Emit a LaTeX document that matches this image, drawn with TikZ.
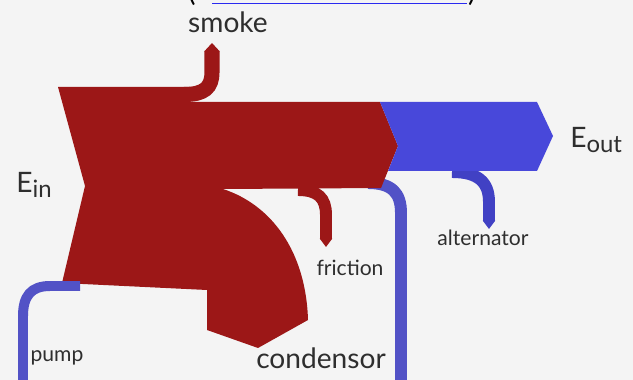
\documentclass[tikz,border=0pt]{standalone}
\usepackage{fontspec}
\setmainfont{Lato}
\usetikzlibrary{arrows.meta}
\definecolor{heat}{HTML}{9C1717}
\definecolor{work}{HTML}{4848DA}
\definecolor{pumpblue}{HTML}{5252C6}
\definecolor{ink}{HTML}{2E2E2E}
\definecolor{paper}{HTML}{F4F4F4}
\definecolor{link}{HTML}{2A2AF0}

\begin{document}
\begin{tikzpicture}[x=0.025cm, y=-0.025cm,
      lbl/.style={text=ink, inner sep=0pt, font=\fontsize{15}{18}\selectfont},
      big/.style={lbl, font=\fontsize{20}{24}\selectfont},
      pipe/.style={line width=8.5pt},
      pointed/.style={-{Triangle[width=#1, length=6pt]}},
      pointed/.default=8.5pt]
    \useasboundingbox[fill=paper] (0,0) rectangle (633,380);
    % cut-off line above the picture
    \draw[link, line width=1.4pt] (212,3.5) -- (467,3.5);
    \node[anchor=base, inner sep=0pt, font=\fontsize{20}{24}\selectfont] (opn) at (192,2) {(};
    \node[anchor=base, inner sep=0pt, font=\fontsize{20}{24}\selectfont] (cls) at (472,2) {)};
    % pipes
    \coordinate (smk) at (184,94.5);
    \coordinate (frc) at (298,190);
    \coordinate (alt) at (452,172);
    \coordinate (pmpR) at (368,183);
    \coordinate (pmpL) at (80,286);
    \draw[pipe, pumpblue] (pmpR) .. controls (392,183) and (401,193) .. (401,213) -- (401,392);
    \draw[pipe, heat, pointed] (frc) .. controls (318,190) and (326,198) .. (326,215) -- (326,247);
    \draw[pipe, work!90!black, pointed] (alt) .. controls (478,172) and (489,182) .. (489,202) -- (489,229);
    \draw[heat, line width=10.7pt, pointed=10.7pt] (smk) .. controls (204,94.5) and (212,88) .. (212,72) -- (212,43);
    % bands
    \fill[heat] (58,87) -- (190,87) -- (190,102) -- (380,102) -- (398,146) -- (381,188)
      -- (223,189) .. controls (272,205) and (306,252) .. (308,320) -- (258,348)
      -- (207,330) -- (207,290) -- (62,283) -- (85,186) -- cycle;
    \fill[work] (380,102) -- (537,102) -- (553,136) -- (537,171) -- (388,171) -- (398,146) -- cycle;
    \draw[pumpblue, line width=7.1pt] (pmpL) -- (50,286) .. controls (31,286) and (23,296) .. (23,316) -- (23,392);
    % labels
    \node[big] (smoke) at (228,22) {smoke};
    \node[big, anchor=west] (ein) at (16,185) {E\raisebox{-4pt}{\fontsize{17}{20}\selectfont in}};
    \node[big, anchor=west] (eout) at (570,140) {E\raisebox{-4pt}{\fontsize{17}{20}\selectfont out}};
    \node[lbl] (alternator) at (483,238) {alternator};
    \node[lbl] (friction) at (350,268) {friction};
    \node[lbl] (pump) at (57,358) {pump};
    \node[big] (condensor) at (321,358) {condensor};
\end{tikzpicture}
\end{document}
